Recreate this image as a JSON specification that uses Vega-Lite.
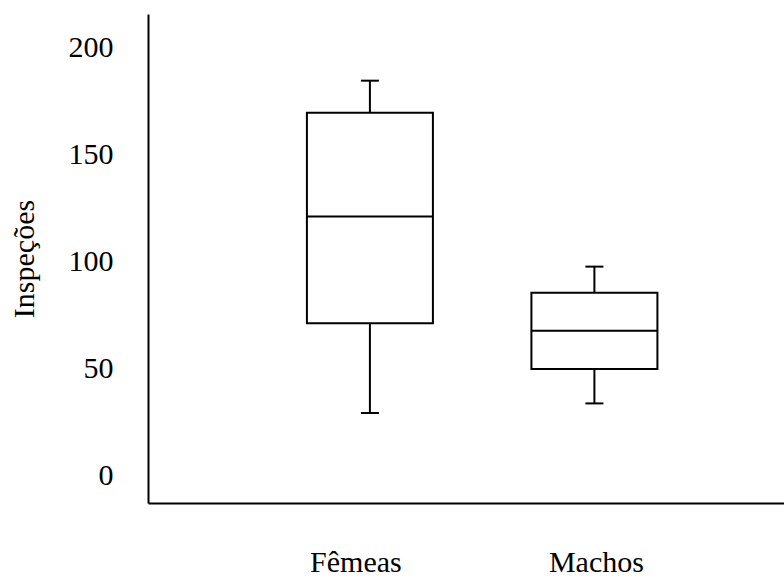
{
  "$schema": "https://vega.github.io/schema/vega-lite/v6.json",
  "width": 636,
  "height": 489,
  "autosize": {"type": "none"},
  "padding": {"left": 148, "top": 14, "right": 0, "bottom": 75},
  "background": "white",
  "config": {
    "view": {"stroke": null},
    "font": "Liberation Serif"
  },
  "data": {
    "values": [
      {"sexo": "Fêmeas", "min": 29, "q1": 71, "median": 121, "q3": 169.5, "max": 184.5},
      {"sexo": "Machos", "min": 33.5, "q1": 49.6, "median": 67.5, "q3": 85.3, "max": 97.5}
    ]
  },
  "encoding": {
    "x": {
      "field": "sexo",
      "type": "nominal",
      "sort": ["Fêmeas", "Machos"],
      "scale": {"type": "band", "domain": ["Fêmeas", "Machos"], "paddingInner": 0.4298, "paddingOuter": 0.6314, "align": 0.557},
      "axis": {
        "title": null,
        "labelAngle": 0,
        "labelFont": "Liberation Serif",
        "labelFontSize": 30,
        "labelColor": "#000000",
        "labelPadding": 44,
        "labelOffset": {"condition": {"test": "datum.value === 'Fêmeas'", "value": -14}, "value": 2},
        "ticks": false,
        "tickSize": 0,
        "domainColor": "#000000",
        "domainWidth": 2,
        "grid": false
      }
    }
  },
  "layer": [
    {
      "mark": {"type": "rule", "color": "#000000", "strokeWidth": 2},
      "encoding": {
        "y": {
          "field": "min",
          "type": "quantitative",
          "scale": {"domain": [-13.1, 215.7], "nice": false, "zero": false},
          "axis": {
            "title": "Inspeções",
            "titleFont": "Liberation Serif",
            "titleFontSize": 30,
            "titleFontWeight": "normal",
            "titleColor": "#000000",
            "titlePadding": 29,
            "values": [0, 50, 100, 150, 200],
            "labelFont": "Liberation Serif",
            "labelFontSize": 30,
            "labelColor": "#000000",
            "labelPadding": 35,
            "ticks": false,
            "tickSize": 0,
            "domainColor": "#000000",
            "domainWidth": 2,
            "grid": false
          }
        },
        "y2": {"field": "max"}
      }
    },
    {
      "mark": {"type": "bar", "size": 126, "fill": "white", "stroke": "#000000", "strokeWidth": 2},
      "encoding": {
        "y": {"field": "q1", "type": "quantitative"},
        "y2": {"field": "q3"}
      }
    },
    {
      "mark": {"type": "tick", "size": 126, "thickness": 2, "color": "#000000", "opacity": 1},
      "encoding": {
        "y": {"field": "median", "type": "quantitative"}
      }
    },
    {
      "mark": {"type": "tick", "size": 18, "thickness": 2, "color": "#000000", "opacity": 1},
      "encoding": {
        "y": {"field": "min", "type": "quantitative"}
      }
    },
    {
      "mark": {"type": "tick", "size": 18, "thickness": 2, "color": "#000000", "opacity": 1},
      "encoding": {
        "y": {"field": "max", "type": "quantitative"}
      }
    }
  ]
}
